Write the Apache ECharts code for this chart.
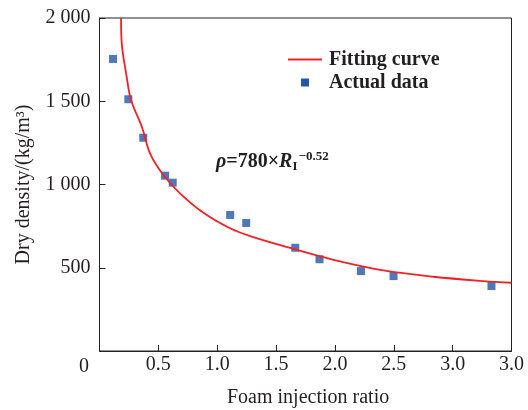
<!DOCTYPE html>
<html>
<head>
<meta charset="utf-8">
<script src="https://cdn.jsdelivr.net/npm/echarts@6/dist/echarts.min.js"></script>
<style>html,body{margin:0;padding:0;background:#fff}#c{width:528px;height:410px}</style>
</head>
<body>
<div id="c"></div>
<script>
// Actual data (foam injection ratio, dry density)
var actualX = [0.115, 0.245, 0.372, 0.557, 0.622, 1.11, 1.246, 1.663, 1.869, 2.221, 2.498, 3.33];
var actualY = [1754, 1512, 1281, 1053, 1011, 817, 769, 620, 551, 480, 450, 390];
// Fitting curve
var curveX = [0.183, 0.189, 0.231, 0.268, 0.364, 0.429, 0.543, 0.684, 0.883, 1.109, 1.28, 1.648, 1.988, 2.413, 2.838, 3.264, 3.5];
var curveY = [2000, 1848, 1647, 1508, 1338, 1187, 1057, 947, 830, 737, 690, 613, 548, 484, 446, 420, 410];
// Tick labels as printed
var xTickLabels = ['0', '0.5', '1.0', '1.5', '2.0', '2.5', '3.0', '3.0'];
var yTickLabels = ['0', '500', '1 000', '1 500', '2 000'];
var xTitle = 'Foam injection ratio';
var yTitle = 'Dry density/(kg/m³)';
var seriesNames = ['Fitting curve', 'Actual data'];

var FONT = 'Liberation Serif';
var RED = '#ee2328', BLUE = '#2456a6', INK = '#231f20';
var chart = echarts.init(document.getElementById('c'));
var curveData = curveX.map(function (x, i) { return [x, curveY[i]]; });
var actualData = actualX.map(function (x, i) { return [x, actualY[i]]; });

chart.setOption({
  animation: false,
  title: [
    {text: xTickLabels[0], left: 79, top: 357, padding: 0,
     textStyle: {fontFamily: FONT, fontSize: 20, fontWeight: 'normal', color: INK}},
    {text: xTitle, left: 227, top: 388, padding: 0,
     textStyle: {fontFamily: FONT, fontSize: 20, fontWeight: 'normal', color: INK}},
    {text: '{i|ρ}{n|=780×}{i|R}{sub|I}{sup|−0.52}', left: 216, top: 148, padding: 0,
     textStyle: {
       rich: {
         i: {fontFamily: FONT, fontStyle: 'italic', fontSize: 20, color: INK, lineHeight: 28, verticalAlign: 'middle'},
         n: {fontFamily: FONT, fontSize: 20, color: INK, lineHeight: 28, verticalAlign: 'middle'},
         sub: {fontFamily: FONT, fontSize: 13, color: INK, lineHeight: 13, verticalAlign: 'bottom', padding: [0, 0, 3, 0]},
         sup: {fontFamily: FONT, fontSize: 13, color: INK, lineHeight: 13, verticalAlign: 'top', padding: [2, 0, 0, 1]}
       }
     }},
    {text: '{ln|}{t|' + seriesNames[0] + '}\n{sp|}{sq|}{t2|' + seriesNames[1] + '}', left: 288, top: 48, padding: 0,
     textStyle: {
       rich: {
         ln: {width: 34, height: 2, backgroundColor: RED, verticalAlign: 'middle', lineHeight: 23},
         sp: {width: 13, height: 8, verticalAlign: 'middle', lineHeight: 23},
         sq: {width: 8, height: 8, backgroundColor: BLUE, verticalAlign: 'middle', lineHeight: 23},
         t: {fontFamily: FONT, fontSize: 20, color: INK, lineHeight: 23, verticalAlign: 'middle', padding: [0, 0, 0, 7]},
         t2: {fontFamily: FONT, fontSize: 20, color: INK, lineHeight: 23, verticalAlign: 'middle', padding: [0, 0, 0, 20]}
       }
     }}
  ],
  grid: {left: 99.5, right: 16.5, top: 18, bottom: 59, show: true, borderColor: '#222', borderWidth: 1},
  xAxis: {
    type: 'value', min: 0, max: 3.5, interval: 0.5,
    axisLine: {show: true, onZero: false, lineStyle: {color: '#222', width: 1}},
    axisTick: {show: true, inside: true, length: 6, lineStyle: {color: '#222', width: 1}},
    axisLabel: {
      margin: 4, fontFamily: FONT, fontSize: 20, color: INK,
      formatter: function (v) { var i = Math.round(v / 0.5); return i === 0 ? '' : xTickLabels[i]; }
    },
    splitLine: {show: false}
  },
  yAxis: {
    type: 'value', min: 0, max: 2000, interval: 500,
    name: yTitle, nameLocation: 'middle', nameGap: 66,
    nameTextStyle: {fontFamily: FONT, fontSize: 20, color: INK},
    axisLine: {show: true, onZero: false, lineStyle: {color: '#222', width: 1}},
    axisTick: {show: true, inside: true, length: 6, lineStyle: {color: '#222', width: 1}},
    axisLabel: {
      margin: 9, fontFamily: FONT, fontSize: 20, color: INK,
      formatter: function (v) { var i = Math.round(v / 500); return i === 0 ? '' : yTickLabels[i]; }
    },
    splitLine: {show: false}
  },
  series: [
    {
      name: seriesNames[0], type: 'line', data: curveData, smooth: 0.35,
      symbol: 'none', clip: true,
      lineStyle: {color: RED, width: 1.8}, itemStyle: {color: RED}
    },
    {
      name: seriesNames[1], type: 'scatter', data: actualData,
      symbol: 'rect', symbolSize: 8, itemStyle: {color: BLUE}
    }
  ]
});
</script>
</body>
</html>
